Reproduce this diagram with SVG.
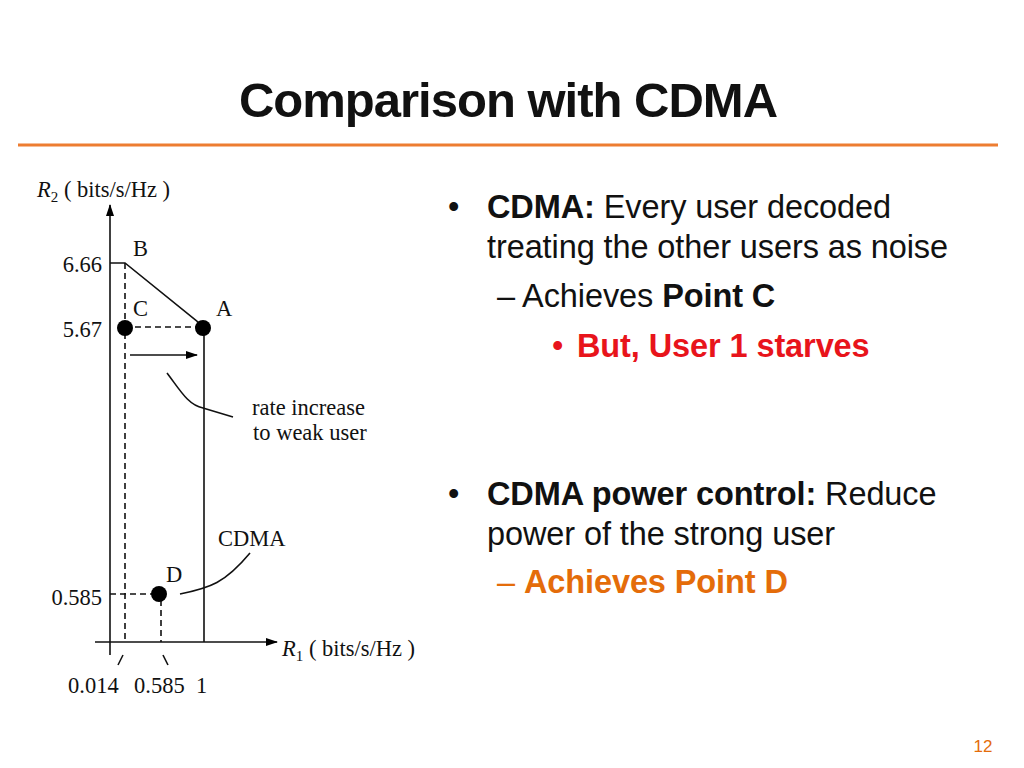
<svg xmlns="http://www.w3.org/2000/svg" width="1024" height="768" viewBox="0 0 1024 768">
<defs>
<marker id="ah" markerWidth="12" markerHeight="8" refX="11" refY="4" orient="auto" markerUnits="userSpaceOnUse"><path d="M0,0 L12,4 L0,8 z" fill="#000"/></marker>
<style>
.s{font-family:"Liberation Serif",serif;font-size:22.5px;fill:#111}
.t{font-family:"Liberation Sans",Arial,sans-serif;font-size:32.5px;fill:#111;letter-spacing:-0.1px}
.b{font-weight:bold}
.ln{stroke:#111;stroke-width:1.6;fill:none}
.ds{stroke:#111;stroke-width:1.6;fill:none;stroke-dasharray:6,4}
</style>
</defs>
<rect width="1024" height="768" fill="#fff"/>
<text x="508" y="117" text-anchor="middle" font-family="Liberation Sans,Arial,sans-serif" font-size="49" font-weight="bold" fill="#111" letter-spacing="-1">Comparison with CDMA</text>
<line x1="18" y1="145" x2="998" y2="145" stroke="#ED7D31" stroke-width="3"/>
<g id="connectors">
<line class="ln" x1="110" y1="655" x2="110" y2="205" marker-end="url(#ah)"/>
<line class="ln" x1="95" y1="642" x2="277" y2="642" marker-end="url(#ah)"/>
<polyline class="ln" points="110,263 125,263 204,327 204,642"/>
<line class="ds" x1="125" y1="263" x2="125" y2="642"/>
<line class="ds" x1="125" y1="327" x2="204" y2="327"/>
<line class="ds" x1="110" y1="594" x2="159" y2="594"/>
<line class="ds" x1="161" y1="600" x2="161" y2="642"/>
<line class="ln" x1="130" y1="355" x2="197" y2="355" marker-end="url(#ah)"/>
<path class="ln" d="M167,373 C180,390 188,405 203,408 L233,417"/>
<path class="ln" d="M180,594 C210,588 225,583 250,553"/>
<line class="ln" x1="118" y1="665" x2="123" y2="655"/>
<line class="ln" x1="163" y1="655" x2="168" y2="665"/>
</g>
<g id="points">
<circle cx="125" cy="328" r="8" fill="#000"/>
<circle cx="203" cy="328" r="8" fill="#000"/>
<circle cx="159" cy="594" r="8" fill="#000"/>
</g>
<g id="labels">
<text class="s" x="37" y="197"><tspan font-style="italic">R</tspan><tspan font-size="15" dy="5">2</tspan><tspan dy="-5"> ( bits/s/Hz )</tspan></text>
<text class="s" x="282" y="656"><tspan font-style="italic">R</tspan><tspan font-size="15" dy="5">1</tspan><tspan dy="-5"> ( bits/s/Hz )</tspan></text>
<text class="s" x="102" y="272" text-anchor="end">6.66</text>
<text class="s" x="102" y="337" text-anchor="end">5.67</text>
<text class="s" x="102" y="605" text-anchor="end">0.585</text>
<text class="s" x="68" y="693">0.014</text>
<text class="s" x="134" y="693">0.585</text>
<text class="s" x="196" y="693">1</text>
<text class="s" x="133" y="256">B</text>
<text class="s" x="133" y="316">C</text>
<text class="s" x="216" y="316">A</text>
<text class="s" x="166" y="582">D</text>
<text class="s" x="218" y="546">CDMA</text>
<text class="s" x="252" y="415">rate increase</text>
<text class="s" x="253" y="440">to weak user</text>
</g>
<g id="bullets">
<text class="t" x="448" y="218">•</text>
<text class="t" x="487" y="218"><tspan class="b">CDMA:</tspan> Every user decoded</text>
<text class="t" x="487" y="258">treating the other users as noise</text>
<text class="t" x="497" y="307">– Achieves <tspan class="b">Point C</tspan></text>
<text class="t" x="552" y="357" style="fill:#E8141B">•</text>
<text class="t b" x="577" y="357" style="fill:#E8141B">But, User 1 starves</text>
<text class="t" x="448" y="505">•</text>
<text class="t" x="487" y="505"><tspan class="b">CDMA power control:</tspan> Reduce</text>
<text class="t" x="487" y="545">power of the strong user</text>
<text class="t" x="497" y="593" style="fill:#E46C0A">– <tspan class="b">Achieves Point D</tspan></text>
<text x="983" y="752" text-anchor="middle" font-family="Liberation Sans,Arial,sans-serif" font-size="17" fill="#E46C0A">12</text>
</g>
</svg>
